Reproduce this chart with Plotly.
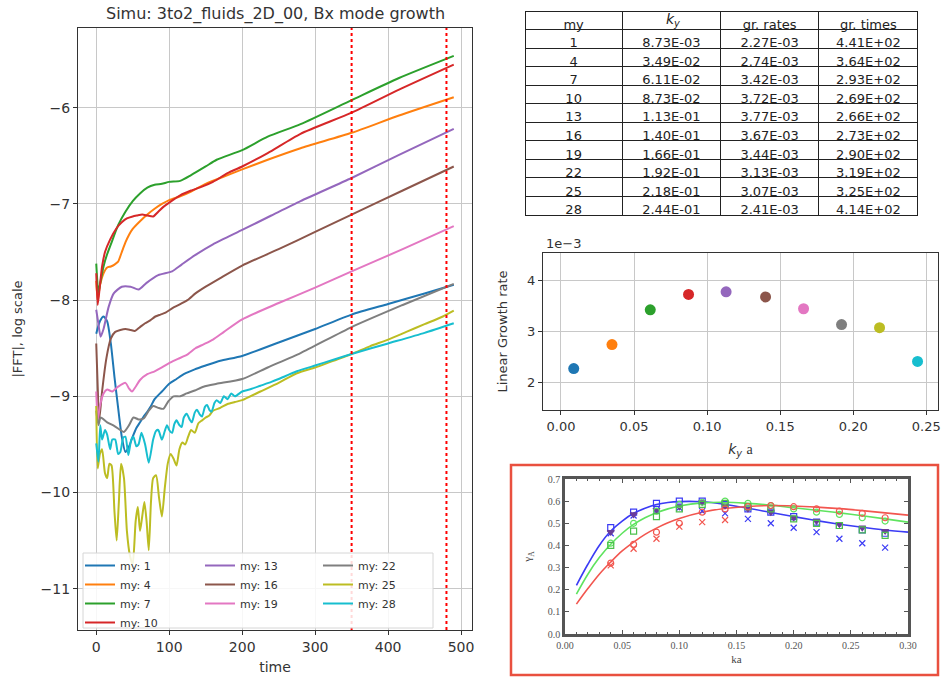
import plotly.graph_objects as go

W, H = 941, 682

# ---------------- main panel: |FFT| (log10) versus time ----------------
modes = [1, 4, 7, 10, 13, 16, 19, 22, 25, 28]

t_my1 = [0, 5, 10, 15, 20, 25, 30, 35, 40, 45, 50, 55, 60, 65, 70, 75, 80, 90, 100, 110, 120, 135, 150, 170, 200, 250, 300, 350, 400, 450, 490]
v_my1 = [-8.35, -8.22, -8.17, -8.22, -8.45, -8.8, -9.12, -9.42, -9.58, -9.52, -9.42, -9.33, -9.27, -9.21, -9.16, -9.1, -9.03, -8.95, -8.87, -8.82, -8.77, -8.72, -8.68, -8.63, -8.58, -8.44, -8.3, -8.15, -8.04, -7.93, -7.84]

t_my4 = [0, 2, 5, 10, 15, 20, 25, 30, 35, 40, 45, 50, 60, 70, 80, 90, 100, 115, 130, 150, 170, 200, 235, 280, 350, 415, 490]
v_my4 = [-7.8, -8.0, -7.85, -7.72, -7.66, -7.65, -7.63, -7.6, -7.5, -7.4, -7.32, -7.26, -7.18, -7.11, -7.05, -7.0, -6.96, -6.92, -6.87, -6.79, -6.73, -6.64, -6.54, -6.42, -6.26, -6.08, -5.89]

t_my7 = [0, 3, 6, 10, 15, 20, 30, 40, 50, 60, 70, 80, 90, 100, 115, 130, 150, 165, 200, 235, 280, 350, 415, 490]
v_my7 = [-7.62, -7.92, -7.8, -7.65, -7.52, -7.42, -7.22, -7.08, -6.97, -6.89, -6.83, -6.80, -6.79, -6.77, -6.76, -6.70, -6.61, -6.54, -6.44, -6.30, -6.17, -5.92, -5.69, -5.46]

t_my10 = [0, 2, 5, 8, 12, 19, 28, 35, 42, 50, 56, 63, 70, 78, 85, 92, 101, 115, 130, 145, 160, 180, 200, 235, 280, 350, 415, 490]
v_my10 = [-7.72, -8.05, -7.85, -7.65, -7.5, -7.37, -7.25, -7.19, -7.15, -7.13, -7.12, -7.11, -7.12, -7.13, -7.08, -7.03, -6.98, -6.91, -6.86, -6.82, -6.77, -6.68, -6.61, -6.47, -6.27, -6.05, -5.81, -5.55]

t_my13 = [0, 3, 6, 10, 17, 24, 35, 47, 58, 69, 85, 104, 117, 136, 160, 200, 240, 280, 350, 415, 490]
v_my13 = [-8.1, -8.25, -8.38, -8.3, -8.07, -7.93, -7.86, -7.86, -7.89, -7.82, -7.74, -7.70, -7.63, -7.53, -7.42, -7.27, -7.12, -6.97, -6.73, -6.49, -6.22]

t_my16 = [0, 2, 4, 8, 14, 20, 26, 33, 40, 47, 53, 60, 67, 74, 81, 88, 95, 105, 113, 125, 136, 150, 170, 200, 250, 300, 350, 420, 490]
v_my16 = [-8.45, -8.9, -9.25, -8.95, -8.6, -8.4, -8.33, -8.31, -8.30, -8.31, -8.32, -8.28, -8.24, -8.21, -8.17, -8.15, -8.13, -8.08, -8.05, -8.0, -7.93, -7.86, -7.77, -7.64, -7.47, -7.29, -7.11, -6.86, -6.61]

t_my19 = [0, 2, 5, 10, 15, 22, 30, 40, 45, 49, 54, 60, 70, 80, 90, 101, 112, 124, 136, 147, 160, 175, 200, 250, 300, 350, 420, 490]
v_my19 = [-8.95, -9.25, -9.1, -8.97, -8.93, -8.95, -8.9, -8.86, -8.92, -8.95, -8.9, -8.83, -8.77, -8.74, -8.7, -8.65, -8.61, -8.57, -8.5, -8.46, -8.41, -8.33, -8.2, -8.03, -7.87, -7.70, -7.47, -7.23]

t_my22 = [0, 3, 6, 15, 25, 33, 38, 45, 51, 58, 65, 72, 78, 85, 92, 99, 106, 115, 124, 135, 147, 165, 200, 235, 280, 350, 420, 490]
v_my22 = [-9.15, -9.3, -9.22, -9.27, -9.31, -9.35, -9.37, -9.3, -9.22, -9.24, -9.23, -9.15, -9.1, -9.12, -9.13, -9.05, -9.0, -9.0, -8.97, -8.94, -8.9, -8.87, -8.82, -8.7, -8.55, -8.28, -8.05, -7.83]

t_my25 = [0, 2, 5, 8, 12, 15, 18, 21, 25, 28, 31, 34, 38, 42, 46, 50, 54, 57, 60, 63, 66, 69, 72, 75, 78, 82, 86, 90, 94, 98, 102, 106, 110, 114, 118, 122, 126, 130, 135, 140, 145, 150, 155, 160, 170, 180, 190, 200, 225, 250, 275, 300, 325, 350, 375, 400, 425, 450, 475, 490]
v_my25 = [-9.1, -9.75, -9.6, -9.55, -9.8, -9.85, -9.7, -9.72, -10.2, -10.5, -10.1, -9.7, -9.85, -10.4, -10.65, -10.75, -10.3, -10.15, -10.4, -10.25, -10.1, -10.3, -10.6, -10.1, -9.85, -9.82, -10.05, -10.25, -9.95, -9.7, -9.6, -9.65, -9.72, -9.55, -9.48, -9.5, -9.42, -9.35, -9.38, -9.28, -9.25, -9.22, -9.2, -9.15, -9.12, -9.08, -9.06, -9.04, -8.95, -8.86, -8.76, -8.7, -8.63, -8.56, -8.48, -8.41, -8.33, -8.25, -8.17, -8.11]

t_my28 = [0, 3, 5.5, 8, 12, 15, 19, 22, 26, 30, 33, 37, 40, 44, 48, 51, 55, 58, 62, 67, 72, 78, 82, 85, 90, 94, 97, 100, 104, 107, 110, 114, 117, 120, 124, 128, 131, 135, 138, 142, 145, 149, 152, 155, 158, 162, 165, 170, 175, 180, 185, 190, 200, 210, 225, 240, 250, 275, 300, 325, 350, 400, 450, 490]
v_my28 = [-9.49, -9.68, -9.3, -9.45, -9.35, -9.4, -9.55, -9.45, -9.45, -9.6, -9.58, -9.43, -9.42, -9.61, -9.45, -9.42, -9.52, -9.5, -9.38, -9.5, -9.69, -9.45, -9.36, -9.35, -9.45, -9.36, -9.3, -9.35, -9.38, -9.29, -9.25, -9.3, -9.32, -9.22, -9.18, -9.24, -9.27, -9.17, -9.14, -9.19, -9.21, -9.11, -9.09, -9.14, -9.16, -9.07, -9.04, -9.07, -9.0, -9.03, -8.97, -9.0, -8.95, -8.93, -8.89, -8.85, -8.82, -8.74, -8.68, -8.62, -8.56, -8.45, -8.34, -8.24]

series_t = [t_my1, t_my4, t_my7, t_my10, t_my13, t_my16, t_my19, t_my22, t_my25, t_my28]
series_v = [v_my1, v_my4, v_my7, v_my10, v_my13, v_my16, v_my19, v_my22, v_my25, v_my28]

fit_window = [350, 480]

# ---------------- table + growth-rate scatter ----------------
ky_vals = [8.73e-3, 3.49e-2, 6.11e-2, 8.73e-2, 1.13e-1, 1.40e-1, 1.66e-1, 1.92e-1, 2.18e-1, 2.44e-1]
gr_rates = [2.27e-3, 2.74e-3, 3.42e-3, 3.72e-3, 3.77e-3, 3.67e-3, 3.44e-3, 3.13e-3, 3.07e-3, 2.41e-3]
gr_times = [441, 364, 293, 269, 266, 273, 290, 319, 325, 414]
table_header = ["my", "\u00a0", "gr. rates", "gr. times"]
ky_header = "<i>k</i><sub><i>y</i></sub>"

# ---------------- reference inset (gamma_A vs ka) ----------------
ka_line = [0.01, 0.02, 0.03, 0.04, 0.05, 0.06, 0.07, 0.08, 0.09, 0.10, 0.12, 0.14, 0.16, 0.18, 0.20, 0.22, 0.24, 0.26, 0.28, 0.30]
gam_blue = [0.22, 0.315, 0.40, 0.465, 0.51, 0.545, 0.568, 0.585, 0.594, 0.598, 0.597, 0.585, 0.568, 0.549, 0.53, 0.512, 0.496, 0.482, 0.47, 0.46]
gam_green = [0.18, 0.27, 0.345, 0.405, 0.455, 0.495, 0.525, 0.548, 0.565, 0.578, 0.592, 0.595, 0.59, 0.582, 0.57, 0.559, 0.547, 0.534, 0.52, 0.505]
gam_red = [0.135, 0.205, 0.27, 0.325, 0.375, 0.415, 0.45, 0.478, 0.502, 0.522, 0.55, 0.567, 0.576, 0.58, 0.578, 0.573, 0.566, 0.557, 0.547, 0.537]

ka_pts = [0.04, 0.06, 0.08, 0.10, 0.12, 0.14, 0.16, 0.18, 0.20, 0.22, 0.24, 0.26, 0.28]
pts_blue_sq = [0.48, 0.55, 0.59, 0.60, 0.60, 0.585, 0.565, 0.55, 0.53, 0.505, 0.49, 0.47, 0.455]
pts_blue_x = [0.455, 0.535, 0.56, 0.57, 0.555, 0.545, 0.52, 0.50, 0.48, 0.46, 0.43, 0.41, 0.39]
pts_purple_tri = [0.46, 0.54, 0.56, 0.575, 0.595, 0.58, 0.565, 0.55, 0.525, 0.51, 0.495, 0.48, 0.465]
pts_green_ci = [0.41, 0.50, 0.555, 0.585, 0.595, 0.60, 0.59, 0.58, 0.565, 0.55, 0.54, 0.525, 0.51]
pts_green_sq = [0.40, 0.465, 0.53, 0.565, 0.585, 0.59, 0.575, 0.565, 0.52, 0.50, 0.49, 0.47, 0.445]
pts_red_ci = [0.32, 0.405, 0.46, 0.50, 0.55, 0.565, 0.575, 0.58, 0.575, 0.565, 0.555, 0.545, 0.525]
ka_red_x = [0.04, 0.06, 0.08, 0.10, 0.12, 0.14]
pts_red_x = [0.31, 0.385, 0.43, 0.485, 0.505, 0.515]

# ---------------- styles ----------------
tab10 = ["#1f77b4", "#ff7f0e", "#2ca02c", "#d62728", "#9467bd",
         "#8c564b", "#e377c2", "#7f7f7f", "#bcbd22", "#17becf"]
legend_of = ["legend"] * 4 + ["legend2"] * 3 + ["legend3"] * 3
FONT = "DejaVu Sans"
SERIF = "Liberation Serif"
GRID = "#c8c8c8"
AX = "#333333"


def px(x):
    return x / W


def py(y):
    return 1 - y / H


fig = go.Figure()

for i, m in enumerate(modes):
    fig.add_trace(go.Scatter(
        x=series_t[i], y=series_v[i], mode="lines", name=f"my: {m}",
        line=dict(color=tab10[i], width=2, shape="spline", smoothing=0.6),
        legend=legend_of[i], xaxis="x", yaxis="y"))

fig.add_trace(go.Scatter(
    x=ky_vals, y=gr_rates, mode="markers", showlegend=False,
    marker=dict(color=tab10, size=11), xaxis="x2", yaxis="y2"))

TBL_TOP, TBL_BOT = 11, 215
ROW_H = (TBL_BOT - TBL_TOP) / 11
fig.add_trace(go.Table(
    domain=dict(x=[px(525), px(919)], y=[py(TBL_BOT + 2), py(TBL_TOP)]),
    columnwidth=[97, 98, 98, 99],
    header=dict(values=table_header, align="center", height=ROW_H,
                line=dict(color="#222", width=1), fill=dict(color="white"),
                font=dict(family=FONT, size=13, color="#222")),
    cells=dict(values=[[str(m) for m in modes],
                       [f"{v:.2E}" for v in ky_vals],
                       [f"{v:.2E}" for v in gr_rates],
                       [f"{v:.2E}" for v in gr_times]],
               align="center", height=ROW_H,
               line=dict(color="#222", width=1), fill=dict(color="white"),
               font=dict(family=FONT, size=13, color="#222"))))

# inset traces
for gam, col in [(gam_blue, "#3b3bf5"), (gam_green, "#5fe35f"), (gam_red, "#f2564f")]:
    fig.add_trace(go.Scatter(x=ka_line, y=gam, mode="lines", showlegend=False,
                             line=dict(color=col, width=1.6, shape="spline"),
                             xaxis="x3", yaxis="y3"))
for kx, pts, sym, col in [
        (ka_pts, pts_blue_sq, "square-open", "#3b3bf5"),
        (ka_pts, pts_blue_x, "x-thin-open", "#3b3bf5"),
        (ka_pts, pts_purple_tri, "triangle-down", "#6a3d9a"),
        (ka_pts, pts_green_ci, "circle-open", "#5fe35f"),
        (ka_pts, pts_green_sq, "square-open", "#4cc04c"),
        (ka_pts, pts_red_ci, "circle-open", "#f2564f"),
        (ka_red_x, pts_red_x, "x-thin-open", "#f2564f")]:
    fig.add_trace(go.Scatter(x=kx, y=pts, mode="markers", showlegend=False,
                             marker=dict(symbol=sym, size=6, color=col,
                                         line=dict(color=col, width=1.2)),
                             xaxis="x3", yaxis="y3"))

shapes = []
for tv in fit_window:
    shapes.append(dict(type="line", xref="x", yref="y domain", x0=tv, x1=tv,
                       y0=0, y1=1, line=dict(color="red", width=2, dash="dot")))
shapes.append(dict(type="rect", xref="paper", yref="paper",
                   x0=px(83), x1=px(433), y0=py(628), y1=py(553),
                   fillcolor="rgba(255,255,255,0.85)",
                   line=dict(color="#d6d6d6", width=1), layer="above"))
shapes.append(dict(type="rect", xref="paper", yref="paper",
                   x0=px(511), x1=px(938), y0=py(675), y1=py(465),
                   line=dict(color="#e9503f", width=2.5)))

axis_common = dict(showgrid=True, gridcolor=GRID, gridwidth=1, zeroline=False,
                   showline=True, mirror=True, linecolor=AX, linewidth=1.2,
                   ticks="outside", ticklen=4, tickcolor=AX, automargin=False)

legend_common = dict(bgcolor="rgba(0,0,0,0)", borderwidth=0, yanchor="top",
                     xanchor="left", y=py(551),
                     font=dict(family=FONT, size=11, color="#333"))

fig.update_layout(
    width=W, height=H, margin=dict(l=0, r=0, t=0, b=0, autoexpand=False),
    paper_bgcolor="white", plot_bgcolor="white",
    font=dict(family=FONT, color="#333"),
    xaxis=dict(domain=[px(78), px(472)], range=[-25, 515], dtick=100,
               anchor="y", tickfont=dict(size=14),
               title=dict(text="time", font=dict(size=14), standoff=8),
               **axis_common),
    yaxis=dict(domain=[py(630), py(28)], range=[-11.43, -5.17], dtick=1,
               anchor="x", tickfont=dict(size=14),
               title=dict(text="|FFT|, log scale", font=dict(size=13), standoff=15),
               **axis_common),
    xaxis2=dict(domain=[px(543), px(938)], range=[-0.0123, 0.258],
                tickvals=[0, 0.05, 0.10, 0.15, 0.20, 0.25], tickformat=".2f",
                anchor="y2", tickfont=dict(size=13),
                title=dict(text="<i>k</i><sub><i>y</i></sub> <span style=\"font-family:Liberation Serif\">a</span>",
                           font=dict(size=14), standoff=11),
                **axis_common),
    yaxis2=dict(domain=[py(410), py(253)], range=[1.46e-3, 4.53e-3],
                tickvals=[2e-3, 3e-3, 4e-3], ticktext=["2", "3", "4"],
                anchor="x2", tickfont=dict(size=13),
                title=dict(text="Linear Growth rate", font=dict(size=13), standoff=16),
                **axis_common),
    xaxis3=dict(domain=[px(565), px(908)], range=[0, 0.3], dtick=0.05,
                tickformat=".2f", anchor="y3", showgrid=False, zeroline=False,
                showline=True, mirror="allticks", linecolor="#555", linewidth=2.5,
                ticks="inside", ticklen=4, tickcolor="#555", automargin=False,
                minor=dict(dtick=0.01, ticks="inside", ticklen=2, tickcolor="#555"),
                tickfont=dict(family=SERIF, size=10, color="#555"),
                title=dict(text="ka", font=dict(family=SERIF, size=11, color="#444"), standoff=6)),
    yaxis3=dict(domain=[py(634), py(479)], range=[0, 0.7], dtick=0.1,
                tickformat=".1f", anchor="x3", showgrid=False, zeroline=False,
                showline=True, mirror="allticks", linecolor="#555", linewidth=2.5,
                ticks="inside", ticklen=4, tickcolor="#555", automargin=False,
                tickfont=dict(family=SERIF, size=10, color="#555"),
                title=dict(text="γ<sub>A</sub>", font=dict(family=SERIF, size=11, color="#444"), standoff=14)),
    legend=dict(x=px(80), **legend_common),
    legend2=dict(x=px(200), **legend_common),
    legend3=dict(x=px(318), **legend_common),
    shapes=shapes,
    annotations=[
        dict(text="Simu: 3to2_fluids_2D_00, Bx mode growth", xref="paper", yref="paper",
             x=px(275), y=py(14), xanchor="center", yanchor="middle", showarrow=False,
             font=dict(family=FONT, size=16, color="#333")),
        dict(text="1e\u22123", xref="paper", yref="paper", x=px(544), y=py(243),
             xanchor="left", yanchor="middle", showarrow=False,
             font=dict(family=FONT, size=13, color="#333")),
        dict(text=ky_header, xref="paper", yref="paper", x=px(673), y=py(TBL_TOP + ROW_H / 2),
             xanchor="center", yanchor="middle", showarrow=False,
             font=dict(family=FONT, size=14, color="#222")),
    ],
)

fig.write_html("out.html", config={"displayModeBar": False},
               post_script="document.body.style.margin='0';document.body.style.overflow='hidden';")
